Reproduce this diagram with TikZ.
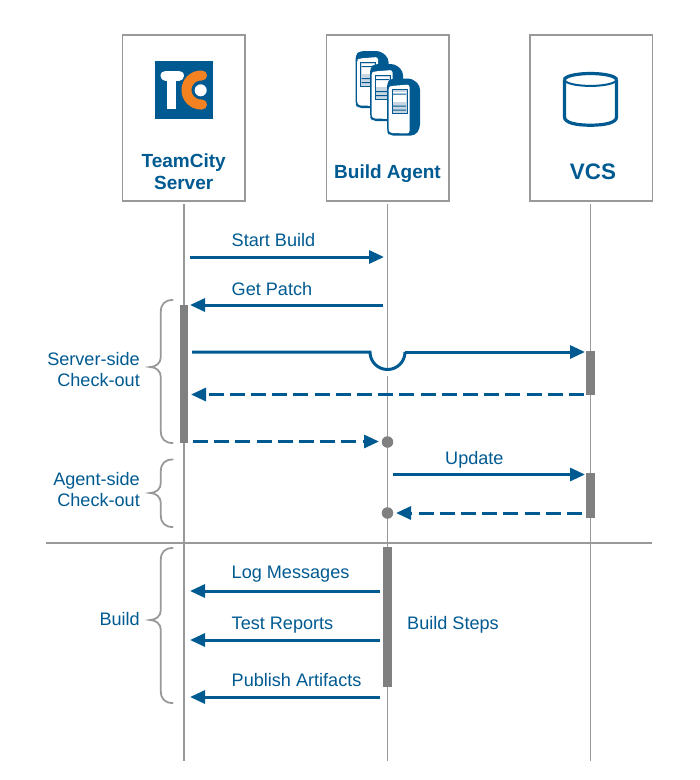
\documentclass[tikz,border=0pt]{standalone}
\usepackage{fontspec}
\setmainfont{Liberation Sans}
\usetikzlibrary{arrows.meta}
\definecolor{tcblue}{HTML}{005A92}
\definecolor{tcorange}{HTML}{F58220}
\definecolor{bargray}{HTML}{808080}
\definecolor{linegray}{HTML}{999999}
\definecolor{screenfill}{HTML}{C9D6E2}
\tikzset{
  x=1pt,y=-1pt,
  headbox/.style={draw=linegray,line width=1.5pt,fill=white,minimum width=122.5pt,minimum height=166pt,inner sep=0pt,anchor=north west},
  headtext/.style={text=tcblue,font=\bfseries\fontsize{19}{22}\selectfont,align=center,anchor=base},
  lifeline/.style={draw=linegray,line width=1.3pt},
  bar/.style={fill=bargray,draw=none},
  msg/.style={draw=tcblue,line width=3pt,-{Triangle[length=15pt,width=13pt]}},
  retmsg/.style={msg,dash pattern=on 15pt off 6.2pt},
  lbl/.style={text=tcblue,font=\fontsize{18.1}{21}\selectfont,anchor=base west,inner sep=0pt},
  sidelbl/.style={text=tcblue,font=\fontsize{18.1}{21}\selectfont,anchor=base east,inner sep=0pt},
  bracket/.style={draw=linegray,line width=1.8pt,line cap=round},
  dot/.style={circle,fill=bargray,draw=none,minimum size=11.5pt,inner sep=0pt},
}
\newcommand{\agenticon}[2]{%
  \begin{scope}[shift={(#1,#2)}]
    \fill[tcblue,rounded corners=4pt] (0,4) -- (4,0) -- (25,0) -- (33,7) -- (33,50) -- (28,57) -- (2,57) -- (0,53) -- cycle;
    \fill[white,rounded corners=2.5pt] (1.5,9) -- (4,7.5) -- (22.5,6) -- (22.5,55) -- (3,54.5) -- (1.5,51) -- cycle;
    \draw[tcblue,line width=1pt,fill=screenfill] (5,11) rectangle (20,35);
    \fill[white] (6,13) rectangle (19,23);
    \fill[tcblue] (6,15) rectangle (19,16) (6,27) rectangle (19,28) (6,31) rectangle (19,32);
  \end{scope}}
\newcommand{\bracefig}[3]{%
  \draw[bracket] (172.7,#1) .. controls (165,#1) and (160.8,{#1+4}) .. (160.8,{#1+12})
    -- (160.8,{#2-10}) .. controls (160.8,{#2-4}) and (156,#2) .. (150,#2)
    .. controls (156,#2) and (160.8,{#2+4}) .. (160.8,{#2+10})
    -- (160.8,{#3-12}) .. controls (160.8,{#3-4}) and (165,#3) .. (172.7,#3);}
\begin{document}
\begin{tikzpicture}
\useasboundingbox (0,0) rectangle (700,780);
% lifelines
\coordinate (sTop) at (184,204); \coordinate (sBot) at (184,761);
\coordinate (aTop) at (387.5,204); \coordinate (aGapA) at (387.5,371); \coordinate (aGapB) at (387.5,376); \coordinate (aBot) at (387.5,761);
\coordinate (vTop) at (590.5,204); \coordinate (vBot) at (590.5,761);
\draw[lifeline] (sTop) -- (sBot);
\draw[lifeline] (aTop) -- (aGapA);
\draw[lifeline] (aGapB) -- (aBot);
\draw[lifeline] (vTop) -- (vBot);
% header boxes
\node[headbox] (server) at (121.8,34) {};
\node[headbox] (agent) at (325.8,34) {};
\node[headbox] (vcs) at (529.2,34) {};
\node[headtext] (serverT) at (183.7,167) {TeamCity};
\node[headtext] (serverU) at (183.7,189.5) {Server};
\node[headtext] (agentT) at (387.5,178) {Build Agent};
\node[headtext,font=\bfseries\fontsize{22.4}{26}\selectfont] (vcsT) at (593,179) {VCS};
% logo
\fill[tcblue] (155,61) rectangle (212.7,119);
\draw[white,line width=10pt,line cap=round] (165.5,75.5) -- (179,75.5);
\fill[white] (167,76) rectangle (175.6,109.3);
\draw[tcorange,line width=10pt,line cap=round] (202,75.5) -- (201,75.5) arc[start angle=90,end angle=270,radius=14.5pt] -- (202,104.5);
\fill[white] (200.7,90.3) circle[radius=6pt];
% agents icon
\agenticon{355.5}{51}
\agenticon{370}{64}
\agenticon{387}{78.5}
% cylinder
\draw[tcblue,line width=3.2pt,fill=none] (564.5,79.7) -- (564.5,117) .. controls (564.5,122.5) and (575,125.2) .. (590.5,125.2) .. controls (606,125.2) and (616.5,122.5) .. (616.5,117) -- (616.5,79.7);
\draw[tcblue,line width=2pt] (590.5,79.7) ellipse[x radius=26pt,y radius=6.2pt];
\draw[tcblue,line width=3.2pt] (564.5,79.7) arc[start angle=180,end angle=0,x radius=26pt,y radius=6.2pt];
% bars
\fill[bar] (179.5,305) rectangle (188.2,443);
\fill[bar] (586.3,350.5) rectangle (595,395);
\fill[bar] (586.3,473) rectangle (595,518);
\fill[bar] (383,547) rectangle (391.5,687);
% divider
\coordinate (divL) at (46,543); \coordinate (divR) at (652,543);
\draw[draw=linegray,line width=1.2pt] (divL) -- (divR);
% dots
\node[dot] (dotA) at (387.5,442) {};
\node[dot] (dotB) at (387.5,513) {};
% messages
\coordinate (m1a) at (190,257); \coordinate (m1b) at (384,257);
\draw[msg] (m1a) -- (m1b);
\coordinate (m2a) at (383,305); \coordinate (m2b) at (190,305);
\draw[msg] (m2a) -- (m2b);
\coordinate (m3a) at (192,352); \coordinate (m3j) at (370,352); \coordinate (m3k) at (405,352); \coordinate (m3b) at (585,352);
\draw[draw=tcblue,line width=3pt] (m3a) -- (m3j) arc[start angle=180,end angle=360,radius=17.5pt];
\draw[msg] (m3k) -- (m3b);
\coordinate (m4a) at (584,394.5); \coordinate (m4b) at (191,394.5);
\draw[retmsg] (m4a) -- (m4b);
\coordinate (m5a) at (193,441.5);
\draw[retmsg] (m5a) -- (379,441.5) coordinate (m5b);
\coordinate (m6a) at (393,474.5); \coordinate (m6b) at (585,474.5);
\draw[msg] (m6a) -- (m6b);
\coordinate (m7a) at (582,513);
\draw[retmsg] (m7a) -- (396,513) coordinate (m7b);
\coordinate (m8a) at (380,591); \coordinate (m8b) at (190,591);
\draw[msg] (m8a) -- (m8b);
\coordinate (m9a) at (380,640); \coordinate (m9b) at (190,640);
\draw[msg] (m9a) -- (m9b);
\coordinate (m10a) at (380,697); \coordinate (m10b) at (190,697);
\draw[msg] (m10a) -- (m10b);
% labels
\node[lbl] (l1) at (231.5,246) {Start Build};
\node[lbl] (l2) at (231.5,295) {Get Patch};
\node[lbl] (l3) at (445,464) {Update};
\node[lbl] (l4) at (231.5,578) {Log Messages};
\node[lbl] (l5) at (231.5,629) {Test Reports};
\node[lbl] (l6) at (231.5,686) {Publish Artifacts};
\node[lbl] (l7) at (407,629) {Build Steps};
\node[sidelbl] (g1a) at (140,365) {Server-side};
\node[sidelbl] (g1b) at (140,386) {Check-out};
\node[sidelbl] (g2a) at (140,485) {Agent-side};
\node[sidelbl] (g2b) at (140,506) {Check-out};
\node[sidelbl] (g3) at (140,625) {Build};
% braces
\bracefig{300}{367}{443}
\bracefig{459.5}{493}{527}
\bracefig{548}{620}{703}
\end{tikzpicture}
\end{document}
